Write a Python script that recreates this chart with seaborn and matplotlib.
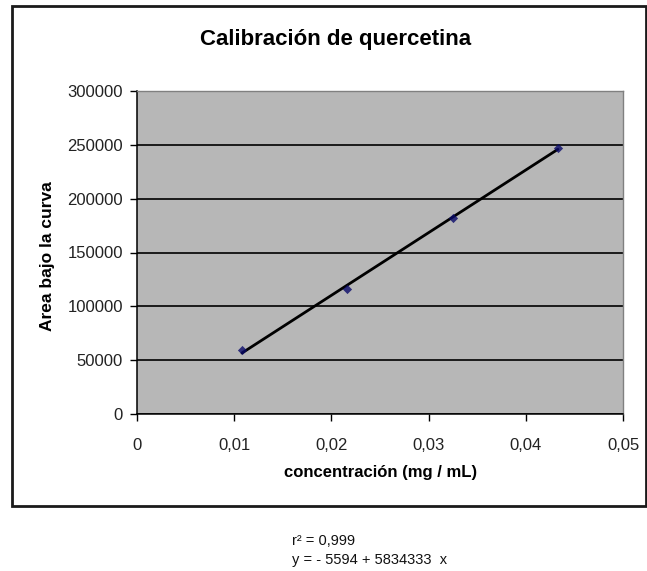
import matplotlib
matplotlib.use("Agg")
import matplotlib.pyplot as plt
import matplotlib.patches as patches
from matplotlib.ticker import FixedLocator, FixedFormatter
import seaborn as sns
import pandas as pd

# ---- data ----
concentracion = [0.0108, 0.0216, 0.0325, 0.0433]
area = [59000, 116500, 182000, 247500]
x_ticks = [0, 0.01, 0.02, 0.03, 0.04, 0.05]
x_tick_labels = ["0", "0,01", "0,02", "0,03", "0,04", "0,05"]
y_ticks = [0, 50000, 100000, 150000, 200000, 250000, 300000]
y_tick_labels = ["0", "50000", "100000", "150000", "200000", "250000", "300000"]
title = "Calibración de quercetina"
x_label = "concentración (mg / mL)"
y_label = "Area bajo la curva"
stat_lines = ["r² = 0,999", "y = - 5594 + 5834333  x"]

df = pd.DataFrame({"conc": concentracion, "area": area})

sns.set_style("white")
plt.rcParams["font.family"] = ["Liberation Sans", "DejaVu Sans"]

W, H = 647, 571
fig = plt.figure(figsize=(W / 100, H / 100), dpi=100)
fig.patch.set_facecolor("white")

def fx(px):
    return px / W

def fy(py):
    return 1 - py / H

# plot area
left, right, top, bottom = 137, 623, 91, 414
ax = fig.add_axes([fx(left), fy(bottom), fx(right) - fx(left), fy(top) - fy(bottom)])
ax.set_facecolor("#b7b7b7")

sns.regplot(data=df, x="conc", y="area", ax=ax, ci=None, marker="D",
            scatter_kws={"s": 22, "color": "#0a0a6a", "zorder": 4, "linewidths": 0},
            line_kws={"color": "black", "lw": 2.0, "zorder": 3})

ax.set_xlim(0, 0.05)
ax.set_ylim(0, 300000)
ax.xaxis.set_major_locator(FixedLocator(x_ticks))
ax.xaxis.set_major_formatter(FixedFormatter(x_tick_labels))
ax.yaxis.set_major_locator(FixedLocator(y_ticks))
ax.yaxis.set_major_formatter(FixedFormatter(y_tick_labels))

ax.yaxis.grid(True, color="black", lw=1.2, zorder=1)
ax.xaxis.grid(False)
ax.set_axisbelow(True)

for s in ["left", "bottom"]:
    ax.spines[s].set_color("black")
    ax.spines[s].set_linewidth(1.1)
for s in ["top", "right"]:
    ax.spines[s].set_color("#808080")
    ax.spines[s].set_linewidth(1.0)

ax.tick_params(axis="both", which="major", direction="out", length=5, width=1,
               color="black", labelsize=12, labelcolor="#222222",
               bottom=True, left=True)
ax.tick_params(axis="x", pad=12)
ax.tick_params(axis="y", pad=5)

ax.set_xlabel("")
ax.set_ylabel("")

fig.text(fx(336), fy(40), title, ha="center", va="center",
         fontsize=16, fontweight="bold", color="black")
fig.text(fx(381), fy(473), x_label, ha="center", va="center",
         fontsize=12, fontweight="bold", color="black")
fig.text(fx(48), fy(256), y_label, ha="center", va="center", rotation=90,
         fontsize=12.5, fontweight="bold", color="black")

fig.text(fx(292), fy(541), stat_lines[0], ha="left", va="center",
         fontsize=10.5, color="#111111")
fig.text(fx(292), fy(560), stat_lines[1], ha="left", va="center",
         fontsize=10.5, color="#111111")

# outer chart frame
frame = patches.Rectangle((fx(12), fy(506)), fx(646) - fx(12), fy(6) - fy(506),
                          transform=fig.transFigure, fill=False,
                          edgecolor="#1a1a1a", lw=2.0, zorder=10)
fig.patches.append(frame)

fig.savefig("out.png", dpi=100, facecolor="white")
